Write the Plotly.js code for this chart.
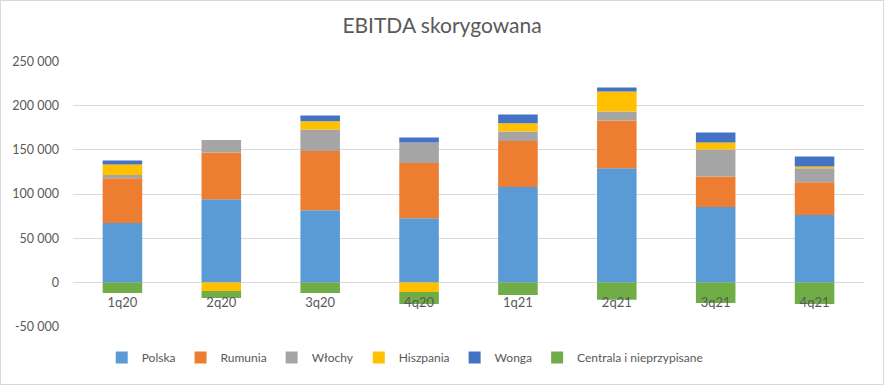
<!DOCTYPE html>
<html><head><meta charset="utf-8">
<script src="https://cdn.plot.ly/plotly-3.0.1.min.js"></script>
<style>body{margin:0;padding:0;background:#fff}#chart{width:882px;height:383px;border:1px solid #d9d9d9}</style>
</head><body><div id="chart"></div>
<script>
const categories = ['1q20','2q20','3q20','4q20','1q21','2q21','3q21','4q21'];
const polska    = [67300, 94000, 81600, 72600, 107900, 129000, 85400, 76300];
const rumunia   = [50400, 53000, 66900, 62400, 51900, 54100, 34500, 36900];
const wlochy    = [3700, 14000, 24400, 23300, 10900, 10200, 30500, 15800];
const hiszpania = [12100, -9800, 9400, -10900, 9400, 22500, 7900, 2200];
const wonga     = [4500, 0, 6400, 5600, 9800, 4500, 11300, 11300];
const centrala  = [-12000, -7900, -12000, -13500, -14300, -19600, -23300, -24400];
const seriesNames = ['Polska','Rumunia','Włochy','Hiszpania','Wonga','Centrala i nieprzypisane'];
const yTickVals = [-50000, 0, 50000, 100000, 150000, 200000, 250000];
const yTickText = ['-50 000','0','50 000','100 000','150 000','200 000','250 000'];
const colors = ['#5B9BD5','#ED7D31','#A5A5A5','#FFC000','#4472C4','#70AD47'];
const values = [polska, rumunia, wlochy, hiszpania, wonga, centrala];

const font = 'Lato, "Open Sans", sans-serif';
const traces = values.map((v,i)=>({
  type:'bar', name: seriesNames[i], x: categories, y: v,
  marker:{color: colors[i], line:{width:0}},
  hoverinfo:'x+y+name'
}));

const yMin = -50400, yMax = 250400;
const layout = {
  width: 882, height: 383,
  barmode: 'relative',
  bargap: 0.6,
  margin: {l: 72, r: 19, t: 60, b: 55},
  paper_bgcolor: '#fff', plot_bgcolor: '#fff',
  title: {text: 'EBITDA skorygowana', font:{family: font, size: 21, color:'#595959'}, x: 0.5, xanchor:'center', y: 0.935, yanchor:'middle'},
  xaxis: {
    type:'category', anchor:'free', position: (0 - yMin)/(yMax - yMin),
    showgrid:false, showline:false, ticks:'',
    tickfont:{family: font, size: 13, color:'#595959'},
    ticklabelstandoff: 11
  },
  yaxis: {
    range:[yMin, yMax], tickvals: yTickVals, ticktext: yTickText,
    showgrid:true, gridcolor:'#d9d9d9', gridwidth:1,
    zeroline:true, zerolinecolor:'#d9d9d9', zerolinewidth:1,
    showline:false, ticks:'',
    tickfont:{family: font, size: 12.5, color:'#595959'},
    ticklabelstandoff: 13
  },
  legend: {
    orientation:'h', x:0.42, xanchor:'center', y:-0.115, yanchor:'middle',
    font:{family: font, size: 12, color:'#595959'},
    traceorder:'normal', itemwidth: 30
  },
  showlegend: true
};
Plotly.newPlot('chart', traces, layout, {displayModeBar:false, staticPlot:true});
</script></body></html>
